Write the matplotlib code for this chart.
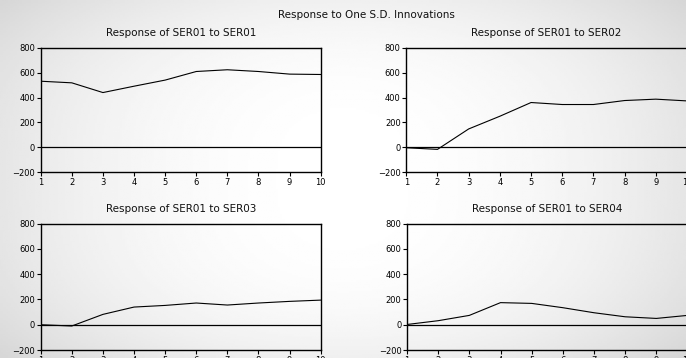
import numpy as np
import matplotlib.pyplot as plt

# periods 1..10
periods = [1, 2, 3, 4, 5, 6, 7, 8, 9, 10]

# responses of SER01 to each shock
resp_ser01 = [531, 518, 440, 491, 540, 609, 623, 609, 588, 585]
resp_ser02 = [-3, -16, 148, 250, 360, 344, 344, 376, 387, 373]
resp_ser03 = [0, -10, 82, 140, 153, 172, 156, 172, 185, 195]
resp_ser04 = [2, 32, 74, 175, 169, 135, 95, 63, 50, 74]

titles = ['Response of SER01 to SER01', 'Response of SER01 to SER02',
          'Response of SER01 to SER03', 'Response of SER01 to SER04']
series = [resp_ser01, resp_ser02, resp_ser03, resp_ser04]
yticks = [-200, 0, 200, 400, 600, 800]

plt.rcParams['font.family'] = ['DejaVu Sans']

W, H = 686, 358
fig = plt.figure(figsize=(W / 100, H / 100), dpi=100)
fig.patch.set_facecolor('white')

# soft grey background shading like the original screenshot
bg = fig.add_axes([0, 0, 1, 1], zorder=-10)
yy, xx = np.mgrid[0:1:200j, 0:1:300j]
shade = 1 - 0.10 * (np.clip(np.abs(xx - 0.5) * 2, 0, 1) ** 2) - 0.06 * (np.abs(yy - 0.5) * 2) ** 3
bg.imshow(shade, cmap='gray', vmin=0, vmax=1, aspect='auto', extent=[0, 1, 0, 1])
bg.axis('off')

# axes boxes in pixels: (left, top, right, bottom)
boxes = [(40.7, 47.7, 320.7, 172.3), (406.3, 47.7, 687.0, 172.3),
         (40.7, 223.7, 320.7, 350.0), (407.0, 223.7, 687.5, 350.0)]
title_y = [33, 33, 209, 209]

for i, (l, t, r, b) in enumerate(boxes):
    ax = fig.add_axes([l / W, 1 - b / H, (r - l) / W, (b - t) / H])
    ax.patch.set_alpha(0)
    ax.plot(periods, series[i], color='black', lw=0.8)
    ax.axhline(0, color='black', lw=0.9)
    ax.set_xlim(1, 10)
    ax.set_ylim(-200, 800)
    ax.set_xticks(periods)
    ax.set_yticks(yticks)
    ax.tick_params(labelsize=6, length=3, width=0.8, pad=1, colors='black')
    for s in ax.spines.values():
        s.set_linewidth(1.0)
    fig.text((l + r) / 2 / W, 1 - title_y[i] / H, titles[i], ha='center', va='center',
             fontsize=7.5, color='#111111')

fig.text(366 / W, 1 - 15.5 / H, 'Response to One S.D. Innovations', ha='center', va='center',
         fontsize=7.5, color='#111111')

fig.savefig('out.png', dpi=100)
